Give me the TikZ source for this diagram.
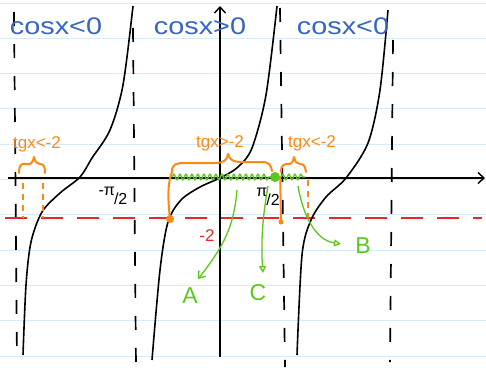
\documentclass[tikz,border=0pt]{standalone}
\usepackage{fontspec}
\setmainfont{Liberation Sans}
\usetikzlibrary{arrows.meta,decorations.pathmorphing}
\definecolor{hblue}{RGB}{52,102,196}
\definecolor{horange}{RGB}{255,136,20}
\definecolor{hgreen}{RGB}{92,200,30}
\definecolor{hred}{RGB}{232,40,40}
\definecolor{rule}{RGB}{214,234,250}
\tikzset{
  ruleline/.style={rule,line width=1pt},
  axisline/.style={black,line width=1.4pt,-{Straight Barb[length=6pt,width=11pt,line width=1.4pt]}},
  asym/.style={black,line width=1.7pt,dash pattern=on 14pt off 18pt},
  tancurve/.style={black,line width=1.6pt,smooth,tension=0.5},
  reddash/.style={hred,line width=1.6pt,dash pattern=on 22pt off 14pt},
  bluelabel/.style={hblue,inner sep=0pt,font=\fontsize{24}{26}\selectfont},
  orangelabel/.style={horange,inner sep=0pt,font=\fontsize{17}{19}\selectfont},
  greenlabel/.style={hgreen,inner sep=0pt,font=\fontsize{23}{25}\selectfont},
  bracestyle/.style={horange,line width=2pt,line cap=round,line join=round},
  orangedash/.style={horange,line width=1.5pt,dash pattern=on 6pt off 5pt},
  wavy/.style={hgreen,line width=1.3pt,decorate,decoration={snake,segment length=6pt,amplitude=2.8pt}},
  greenarrow/.style={hgreen,line width=1.3pt},
  dotstyle/.style={circle,inner sep=0pt,minimum size=#1},
}
\begin{document}
\begin{tikzpicture}[x=1pt,y=-1pt]
\useasboundingbox (0,0) rectangle (486,367);
\fill[white] (0,0) rectangle (486,367);
% ruled paper
\foreach \k in {0,...,10} {
  \draw[ruleline] (0,{3+35.3*\k}) -- (486,{3+35.3*\k});
}
% asymptotes
\coordinate (as1t) at (14,12);  \coordinate (as1b) at (17,360);
\coordinate (as2t) at (133,28); \coordinate (as2b) at (136,367);
\coordinate (as3t) at (280,8);  \coordinate (as3b) at (285,367);
\coordinate (as4t) at (393,40); \coordinate (as4b) at (390,362);
\draw[asym] (as1t) -- (as1b);
\draw[asym] (as2t) -- (as2b);
\draw[asym] (as3t) -- (as3b);
\draw[asym] (as4t) -- (as4b);
% red line y=-2
\coordinate (r0) at (5,218); \coordinate (r1) at (482,218);
\draw[reddash] (r0) -- (r1);
% axes
\coordinate (x0) at (8,178); \coordinate (x1) at (485,178);
\coordinate (y0) at (220,357); \coordinate (y1) at (220,6);
\draw[axisline] (x0) -- (x1);
\draw[axisline] (y0) -- (y1);
% tangent branches
\draw[tancurve] plot coordinates {(133,6) (123,85) (110,130) (92,158) (80,177) (60,193) (42,212) (31,242) (26,285) (23,355)};
\draw[tancurve] plot coordinates {(277,6) (266,95) (252,148) (238,167) (222,177) (200,187) (181,200) (168,222) (160,270) (152,360)};
\draw[tancurve] plot coordinates {(388,10) (380,90) (368,143) (346,178) (326,197) (311,220) (302,255) (297,355)};
% green wavy solution set
\coordinate (w0) at (172,177); \coordinate (w1) at (271,177);
\coordinate (w2) at (281,177); \coordinate (w3) at (305,177);
\draw[wavy] (w0) -- (w1);
\draw[wavy] (w2) -- (w3);
% orange braces and markers
\draw[bracestyle] (19,173) .. controls (19,164) and (22,163) .. (27,164) .. controls (31,165) and (33,162) .. (34,157) .. controls (35,162) and (37,164) .. (40,164) .. controls (44,164) and (45,167) .. (45,173);
\draw[orangedash] (23,183) -- (23,218);
\draw[orangedash] (43,183) -- (43,218);
\draw[bracestyle] (172,172) .. controls (172,164) and (176,163) .. (185,163) -- (215,163) .. controls (224,163) and (227,160) .. (228,154) .. controls (230,160) and (233,162) .. (242,162) -- (262,162) .. controls (269,162) and (271,165) .. (272,171);
\node[dotstyle=8pt,fill=horange] (od1) at (170,219) {};
\draw[bracestyle] (172,172) .. controls (167,185) and (168,200) .. (od1.center);
\draw[bracestyle] (281,172) .. controls (281,165) and (284,164) .. (288,164) .. controls (292,164) and (293,162) .. (294,157) .. controls (295,162) and (297,164) .. (300,164) .. controls (304,164) and (305,166) .. (306,172);
\draw[orangedash] (308,180) -- (308,218);
\node[dotstyle=5pt,fill=horange] (od2) at (281,222) {};
\node[dotstyle=10pt,fill=hgreen] (gd) at (275,177) {};
\draw[bracestyle] (gd.east) -- (od2.center);
% labels
\node[bluelabel] (c1) at (56,26) {\scalebox{1.2}[1]{cosx<0}};
\node[bluelabel] (c2) at (200,26) {\scalebox{1.2}[1]{cosx>0}};
\node[bluelabel] (c3) at (343,26) {\scalebox{1.2}[1]{cosx<0}};
\node[orangelabel] (t1) at (37,144) {tgx<-2};
\node[orangelabel] (t2) at (220,143) {tgx>-2};
\node[orangelabel] (t3) at (312,143) {tgx<-2};
\node[hred,inner sep=0pt,font=\fontsize{17}{19}\selectfont] (m2) at (207,236) {-2};
\node[black,inner sep=0pt,font=\fontsize{16}{18}\selectfont] (mpi) at (113,196) {-π\kern-1pt\raisebox{-0.6em}{/2}};
\node[black,inner sep=0pt,font=\fontsize{16}{18}\selectfont] (ppi) at (268,197) {π\kern-1pt\raisebox{-0.6em}{/2}};
% green arrows and labels
\node[greenlabel] (A) at (190,296) {A};
\node[greenlabel] (C) at (258,293) {C};
\node[greenlabel] (B) at (363,246) {B};
\coordinate (a0) at (237,190); \coordinate (a1) at (198,279);
\coordinate (c0) at (268,186); \coordinate (c1e) at (263,273);
\coordinate (b0) at (298,186); \coordinate (b1) at (341,244);
\draw[greenarrow,-{Straight Barb[length=6pt,width=9pt,line width=1.3pt]}] (a0) .. controls (234,225) and (225,245) .. (a1);
\draw[greenarrow,-{Triangle[open,length=7pt,width=7pt,line width=1.3pt]}] (c0) .. controls (262,220) and (261,245) .. (c1e);
\draw[greenarrow,-{Triangle[open,length=7pt,width=7pt,line width=1.3pt]}] (b0) .. controls (303,215) and (315,240) .. (b1);
\end{tikzpicture}
\end{document}
